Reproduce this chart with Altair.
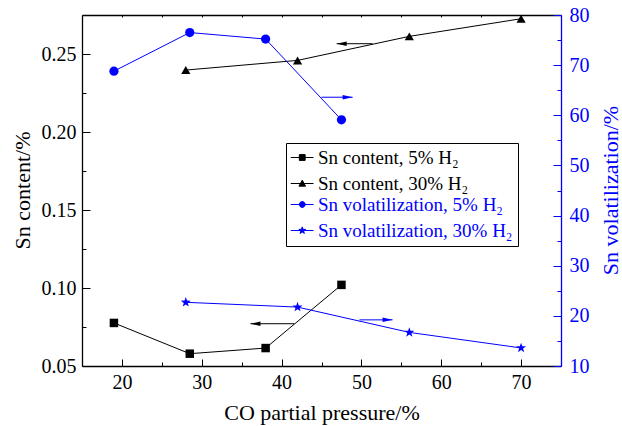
import math
import altair as alt
import pandas as pd

# ---------------- data ----------------
series_names = [
    "Sn content, 5% H\u2082",
    "Sn content, 30% H\u2082",
    "Sn volatilization, 5% H\u2082",
    "Sn volatilization, 30% H\u2082",
]
co_5 = [19, 28.5, 38, 47.5]
co_30 = [28, 42, 56, 70]
content_5 = [0.0776, 0.0579, 0.0615, 0.102]
content_30 = [0.2397, 0.2459, 0.2613, 0.2726]
vol_5 = [68.8, 76.5, 75.2, 59.1]
vol_30 = [22.7, 21.75, 16.7, 13.6]

x_ticks = [20, 30, 40, 50, 60, 70]
x_minor = [25, 35, 45, 55, 65]
x_top = [20, 25, 30, 35, 40, 45, 50, 55, 60, 65, 70]
left_ticks = [0.05, 0.10, 0.15, 0.20, 0.25]
left_minor = [0.075, 0.125, 0.175, 0.225, 0.275]
right_ticks = [10, 20, 30, 40, 50, 60, 70, 80]
right_minor = [15, 25, 35, 45, 55, 65, 75]

# arrows pointing to the axis each curve belongs to
arrow_side = ["left", "left", "right", "right"]
arrow_tail = [51.4, 41.6, 45.0, 49.75]
arrow_tip = [46.9, 36.1, 48.9, 53.9]
arrow_y = [0.2566, 0.0771, 63.6, 19.2]

# ---------------- styling ----------------
FONT = "Liberation Serif"
BLACK = "#000000"
BLUE = "#0000ff"
X_DOM = [15, 75]
L_DOM = [0.05, 0.275]
R_DOM = [10, 80]

xs = alt.Scale(domain=X_DOM, nice=False, zero=False)
ls = alt.Scale(domain=L_DOM, nice=False, zero=False)
rs = alt.Scale(domain=R_DOM, nice=False, zero=False)


def star_path(cx=0.0, outer=1.0, inner=0.4):
    pts = []
    for k in range(10):
        ang = math.radians(-90 + 36 * k)
        rad = outer if k % 2 == 0 else inner
        pts.append(f"{cx + rad * math.cos(ang):.3f},{rad * math.sin(ang):.3f}")
    return "M" + "L".join(pts) + "Z"


STAR = star_path()


def series_df(x, y):
    return pd.DataFrame({"x": x, "y": y})


def series_layers(df, yscale, color, shape, size):
    line = alt.Chart(df).mark_line(color=color, strokeWidth=1).encode(
        x=alt.X("x:Q", scale=xs, axis=None),
        y=alt.Y("y:Q", scale=yscale, axis=None),
    )
    pts = alt.Chart(df).mark_point(
        filled=True, color=color, shape=shape, size=size, opacity=1
    ).encode(
        x=alt.X("x:Q", scale=xs, axis=None),
        y=alt.Y("y:Q", scale=yscale, axis=None),
    )
    return [line, pts]


layers = []
layers += series_layers(series_df(co_5, content_5), ls, BLACK, "square", 72)
layers += series_layers(series_df(co_30, content_30), ls, BLACK, "triangle-up", 85)
layers += series_layers(series_df(co_5, vol_5), rs, BLUE, "circle", 85)
layers += series_layers(series_df(co_30, vol_30), rs, BLUE, STAR, 110)

# arrows
LEFT_HEAD = "M0,0L2,-0.45L2,0.45Z"
RIGHT_HEAD = "M0,0L-2,-0.45L-2,0.45Z"
for side, t0, t1, yy in zip(arrow_side, arrow_tail, arrow_tip, arrow_y):
    adf = pd.DataFrame({"x": [t0], "x2": [t1], "y": [yy]})
    color = BLACK if side == "left" else BLUE
    ysc = ls if side == "left" else rs
    head = LEFT_HEAD if t1 < t0 else RIGHT_HEAD
    layers.append(
        alt.Chart(adf).mark_rule(color=color, strokeWidth=1).encode(
            x=alt.X("x:Q", scale=xs, axis=None),
            x2="x2:Q",
            y=alt.Y("y:Q", scale=ysc, axis=None),
        )
    )
    layers.append(
        alt.Chart(adf).mark_point(filled=True, color=color, shape=head, size=100, opacity=1).encode(
            x=alt.X("x2:Q", scale=xs, axis=None),
            y=alt.Y("y:Q", scale=ysc, axis=None),
        )
    )


# ---------------- axes (each carried by an invisible layer) ----------------
anchor = pd.DataFrame({"x": [20], "y": [0.1], "r": [20]})


def axis_layer(xaxis=None, yaxis=None, yscale=ls, yfield="y"):
    return alt.Chart(anchor).mark_point(opacity=0).encode(
        x=alt.X("x:Q", scale=xs, axis=xaxis),
        y=alt.Y(f"{yfield}:Q", scale=yscale, axis=yaxis),
    )


def tick_axis(orient, values, size, color):
    return alt.Axis(
        orient=orient, values=values, offset=-size, tickSize=size, ticks=True,
        tickColor=color, tickWidth=1, labels=False, domain=False, grid=False, title=None,
    )


x_main = alt.Axis(
    orient="bottom", values=x_ticks, ticks=False, domain=True, domainColor=BLACK,
    domainWidth=1.3, labelFont=FONT, labelFontSize=20, labelColor=BLACK, labelPadding=6,
    grid=False, title="CO partial pressure/%", titleFont=FONT, titleFontSize=22,
    titleFontWeight="normal", titleColor=BLACK, titlePadding=10,
)
x_topdom = alt.Axis(orient="top", values=x_top, ticks=False, labels=False, domain=True,
                    domainColor=BLACK, domainWidth=1.3, grid=False, title=None)
y_left = alt.Axis(
    orient="left", values=left_ticks, format=".2f", ticks=False, domain=True, domainColor=BLACK,
    domainWidth=1.3, labelFont=FONT, labelFontSize=20, labelColor=BLACK, labelPadding=6,
    grid=False, title="Sn content/%", titleFont=FONT, titleFontSize=22, titleFontWeight="normal",
    titleColor=BLACK, titleX=-60, titleY=175, titleAngle=270, titleAlign="center",
    titleBaseline="middle",
)
y_right = alt.Axis(
    orient="right", values=right_ticks, ticks=False, domain=True, domainColor=BLUE,
    domainWidth=1.3, labelFont=FONT, labelFontSize=20, labelColor=BLUE, labelPadding=8,
    grid=False, title="Sn volatilization/%", titleFont=FONT, titleFontSize=22,
    titleFontWeight="normal", titleColor=BLUE, titleX=49, titleY=175, titleAngle=270,
    titleAlign="center", titleBaseline="middle",
)

layers += [
    axis_layer(x_main, y_left),
    axis_layer(x_topdom, tick_axis("left", left_ticks, 8, BLACK)),
    axis_layer(tick_axis("bottom", x_ticks, 7, BLACK), tick_axis("left", left_minor, 4, BLACK)),
    axis_layer(tick_axis("bottom", x_minor, 4, BLACK), y_right, rs, "r"),
    axis_layer(tick_axis("top", x_top, 2, BLACK), tick_axis("right", right_ticks, 8, BLUE), rs, "r"),
    axis_layer(None, tick_axis("right", right_minor, 4, BLUE), rs, "r"),
]


# ---------------- legend ----------------
def legend_path(marker, r=0.58, cx=0.35):
    line = "M-1.95,0H2.6"
    if marker == "square":
        m = f"M{cx - r:.3f},{-r:.3f}H{cx + r:.3f}V{r:.3f}H{cx - r:.3f}Z"
    elif marker == "triangle":
        h = r * 1.15
        m = f"M{cx:.3f},{-h:.3f}L{cx + h:.3f},{h * 0.8:.3f}L{cx - h:.3f},{h * 0.8:.3f}Z"
    elif marker == "circle":
        m = (f"M{cx - r:.3f},0A{r:.3f},{r:.3f} 0 1,0 {cx + r:.3f},0"
             f"A{r:.3f},{r:.3f} 0 1,0 {cx - r:.3f},0Z")
    else:
        m = star_path(cx, 0.72, 0.29)
    return line + m


legend_shapes = [legend_path(s) for s in ["square", "triangle", "circle", "star"]]
legend_colors = [BLACK, BLACK, BLUE, BLUE]


def legend_layer(idx, field, legend):
    names = [series_names[i] for i in idx]
    cols = [legend_colors[i] for i in idx]
    shps = [legend_shapes[i] for i in idx]
    df = pd.DataFrame({field: names, "x": [20] * len(names)})
    return alt.Chart(df).mark_point(filled=True, size=150, opacity=1).encode(
        x=alt.X("x:Q", scale=xs, axis=None),
        fill=alt.Fill(f"{field}:N", scale=alt.Scale(domain=names, range=cols), legend=legend),
        stroke=alt.Stroke(f"{field}:N", scale=alt.Scale(domain=names, range=cols), legend=legend),
        shape=alt.Shape(f"{field}:N", scale=alt.Scale(domain=names, range=shps), legend=legend),
    ).transform_filter("false")


common = dict(orient="none", legendX=204, legendY=128, labelFont=FONT, labelFontSize=19,
              labelLimit=400, labelOffset=8, padding=5, rowPadding=6, symbolStrokeWidth=1)
# blue group carries the frame; a blank title reserves room for the black rows
leg_blue = alt.Legend(title=" ", titleFontSize=40, titlePadding=7, titleOrient="top",
                      labelColor=BLUE, fillColor="white", strokeColor=BLACK, zindex=1, **common)
leg_black = alt.Legend(title=None, labelColor=BLACK, zindex=2, **common)

layers.append(legend_layer([2, 3], "vol", leg_blue))
layers.append(legend_layer([0, 1], "cont", leg_black))

chart = alt.layer(*layers).resolve_scale(
    y="independent", fill="independent", stroke="independent", shape="independent"
).resolve_axis(
    x="independent", y="independent"
).properties(
    width=479, height=351,
    autosize=alt.AutoSizeParams(type="none"),
    padding={"left": 82, "top": 15, "right": 61, "bottom": 60},
).configure(
    background="white", font=FONT
).configure_view(
    stroke=None
).configure_axis(
    labelFont=FONT, titleFont=FONT
).configure_legend(
    labelFont=FONT, titleFont=FONT
)

chart.save("out.html", embed_options={"renderer": "svg", "actions": False})
